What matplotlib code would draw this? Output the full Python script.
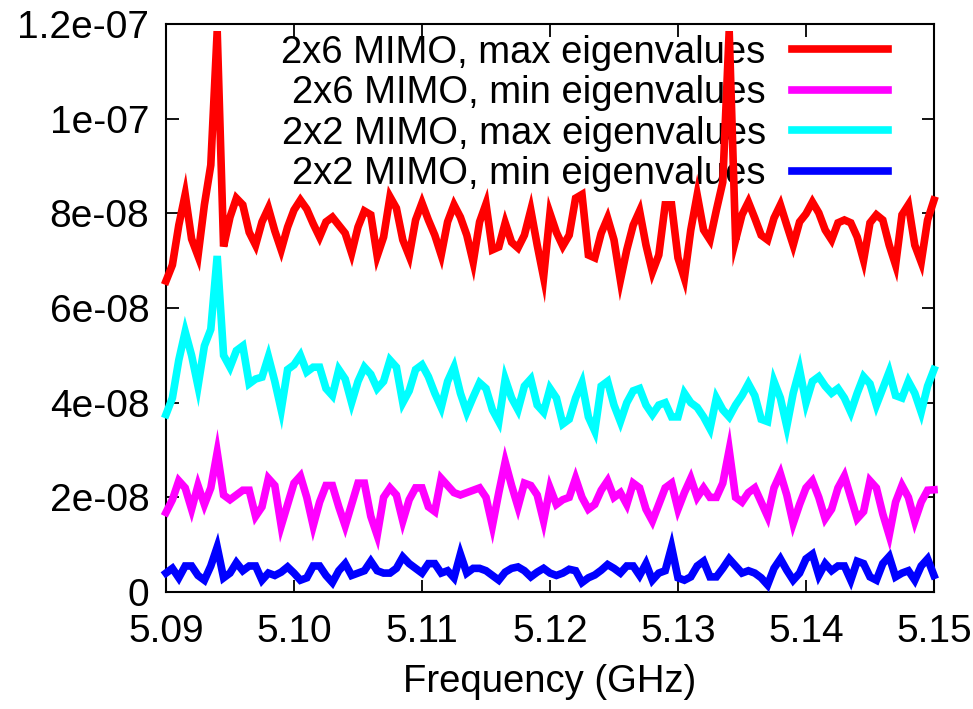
import numpy as np
import matplotlib
matplotlib.use('Agg')
import matplotlib.pyplot as plt

plt.rcParams['font.family'] = ['Liberation Sans', 'DejaVu Sans']

# eigenvalue traces, in units of 1e-8, one sample every 0.5 MHz from 5.09 to 5.15 GHz
max_2x6 = [6.57, 6.91, 7.75, 8.4, 7.46, 7.1, 8.18, 9.02, 11.85, 7.3,
           7.92, 8.32, 8.18, 7.6, 7.33, 7.82, 8.11, 7.63, 7.23, 7.71,
           8.07, 8.28, 8.09, 7.78, 7.5, 7.82, 7.92, 7.75, 7.58, 7.16,
           7.71, 8.05, 7.97, 7.1, 7.5, 8.35, 8.11, 7.44, 7.1, 7.86,
           8.22, 7.86, 7.54, 7.12, 7.82, 8.18, 7.92, 7.54, 6.97, 7.82,
           8.2, 7.23, 7.29, 7.8, 7.39, 7.27, 7.54, 8.07, 7.33, 6.65,
           8.0, 7.6, 7.31, 7.54, 8.32, 8.4, 7.12, 7.06, 7.58, 7.9,
           7.44, 6.59, 7.23, 7.75, 8.05, 7.33, 6.76, 7.12, 8.18, 8.18,
           7.06, 6.63, 7.65, 8.39, 7.65, 7.44, 8.07, 8.66, 11.85, 7.44,
           7.97, 8.24, 7.9, 7.54, 7.44, 7.9, 8.18, 7.75, 7.33, 7.82,
           7.99, 8.24, 8.01, 7.65, 7.44, 7.8, 7.86, 7.8, 7.5, 7.01,
           7.8, 7.97, 7.86, 7.33, 6.91, 7.97, 8.18, 7.33, 6.97, 7.86,
           8.28]
min_2x6 = [1.68, 1.95, 2.35, 2.2, 1.75, 2.25, 1.85, 2.2, 2.95, 2.05,
           1.95, 2.05, 2.15, 2.15, 1.6, 1.8, 2.4, 2.25, 1.4, 1.85,
           2.3, 2.45, 2.0, 1.4, 1.9, 2.25, 2.25, 1.8, 1.4, 1.85,
           2.3, 2.3, 1.6, 1.2, 2.0, 2.2, 2.05, 1.5, 1.95, 2.2,
           2.2, 1.8, 1.7, 2.4, 2.25, 2.1, 2.05, 2.1, 2.15, 2.2,
           2.0, 1.4, 2.1, 2.75, 2.25, 1.8, 2.3, 2.25, 2.05, 1.5,
           2.2, 1.85, 1.95, 2.0, 2.4, 2.0, 1.75, 1.85, 2.15, 2.35,
           2.0, 2.1, 1.85, 2.3, 2.2, 1.75, 1.5, 1.85, 2.2, 2.3,
           1.75, 2.1, 2.4, 2.0, 2.2, 2.0, 2.0, 2.3, 3.0, 2.0,
           1.9, 2.1, 2.2, 1.9, 1.6, 2.2, 2.5, 2.05, 1.45, 1.85,
           2.2, 2.35, 2.0, 1.55, 1.75, 2.2, 2.45, 2.0, 1.55, 1.7,
           2.35, 2.2, 1.65, 1.2, 1.9, 2.25, 2.0, 1.5, 1.9, 2.15,
           2.16]
max_2x2 = [3.75, 4.1, 4.9, 5.5, 5.0, 4.35, 5.2, 5.55, 7.1, 5.0,
           4.75, 5.1, 5.2, 4.4, 4.5, 4.54, 4.97, 4.45, 3.85, 4.7,
           4.8, 5.0, 4.65, 4.75, 4.75, 4.3, 4.15, 4.7, 4.5, 4.0,
           4.45, 4.75, 4.6, 4.3, 4.45, 4.9, 4.75, 4.0, 4.25, 4.7,
           4.8, 4.55, 4.2, 3.9, 4.45, 4.75, 4.2, 3.8, 4.12, 4.42,
           4.3, 3.85, 3.6, 4.5, 4.1, 3.85, 4.35, 4.5, 3.95, 3.8,
           4.3, 4.1, 3.55, 3.65, 4.1, 4.42, 3.7, 3.4, 4.35, 4.45,
           3.95, 3.6, 4.0, 4.25, 4.3, 3.95, 3.75, 3.95, 4.0, 3.7,
           3.7, 4.2, 4.0, 3.9, 3.7, 3.45, 4.1, 3.85, 3.7, 3.95,
           4.15, 4.4, 4.15, 3.65, 3.6, 4.45, 4.1, 3.5, 4.2, 4.7,
           4.0, 4.45, 4.55, 4.35, 4.2, 4.3, 4.1, 3.8, 4.2, 4.55,
           4.4, 3.95, 4.3, 4.65, 4.15, 4.1, 4.45, 4.2, 3.8, 4.35,
           4.7]
min_2x2 = [0.4, 0.5, 0.3, 0.55, 0.55, 0.35, 0.25, 0.55, 0.95, 0.3,
           0.4, 0.62, 0.45, 0.55, 0.55, 0.25, 0.4, 0.35, 0.42, 0.53,
           0.4, 0.25, 0.3, 0.55, 0.55, 0.35, 0.2, 0.45, 0.6, 0.35,
           0.4, 0.45, 0.65, 0.45, 0.4, 0.4, 0.5, 0.74, 0.6, 0.5,
           0.4, 0.6, 0.6, 0.4, 0.45, 0.3, 0.8, 0.4, 0.5, 0.5,
           0.45, 0.35, 0.25, 0.42, 0.5, 0.53, 0.45, 0.32, 0.42, 0.5,
           0.4, 0.35, 0.4, 0.48, 0.45, 0.2, 0.3, 0.36, 0.46, 0.58,
           0.5, 0.4, 0.55, 0.55, 0.35, 0.6, 0.25, 0.4, 0.45, 0.95,
           0.3, 0.25, 0.32, 0.55, 0.65, 0.32, 0.32, 0.5, 0.7, 0.55,
           0.4, 0.45, 0.4, 0.3, 0.15, 0.5, 0.7, 0.46, 0.25, 0.4,
           0.7, 0.8, 0.35, 0.6, 0.45, 0.55, 0.55, 0.25, 0.65, 0.6,
           0.32, 0.25, 0.6, 0.75, 0.32, 0.4, 0.45, 0.25, 0.55, 0.7,
           0.35]

freq = np.linspace(5.09, 5.15, len(max_2x6))

series = [
    ('2x6 MIMO, max eigenvalues', max_2x6, '#ff0000'),
    ('2x6 MIMO, min eigenvalues', min_2x6, '#ff00ff'),
    ('2x2 MIMO, max eigenvalues', max_2x2, '#00ffff'),
    ('2x2 MIMO, min eigenvalues', min_2x2, '#0000ff'),
]

x_ticks = [5.09, 5.10, 5.11, 5.12, 5.13, 5.14, 5.15]
x_labels = ['5.09', '5.10', '5.11', '5.12', '5.13', '5.14', '5.15']
y_ticks = [0, 2e-8, 4e-8, 6e-8, 8e-8, 1e-7, 1.2e-7]
y_labels = ['0', '2e-08', '4e-08', '6e-08', '8e-08', '1e-07', '1.2e-07']

fig = plt.figure(figsize=(9.73, 7.09), dpi=100)
ax = fig.add_axes([0.1706, 0.165, 0.7893, 0.8011])

for name, vals, col in series:
    ax.plot(freq, np.array(vals) * 1e-8, color=col, lw=5.5, label=name,
            zorder=3, clip_on=False, solid_joinstyle='miter')

ax.set_xlim(5.09, 5.15)
ax.set_ylim(0, 1.2e-7)
ax.set_xticks(x_ticks)
ax.set_xticklabels(x_labels)
ax.set_yticks(y_ticks)
ax.set_yticklabels(y_labels)
ax.tick_params(direction='in', length=9, width=1.3, labelsize=28,
               top=True, right=True)
ax.tick_params(axis='x', pad=16)
ax.tick_params(axis='y', pad=12)
for sp in ax.spines.values():
    sp.set_linewidth(1.5)
ax.set_xlabel('Frequency (GHz)', fontsize=27.5, labelpad=10)

# key sits in the upper right corner, text to the left of each sample line
leg = ax.legend(loc='upper right', bbox_to_anchor=(0.945, 0.988),
                frameon=False, markerfirst=False,
                fontsize=27.5, handlelength=2.5, handletextpad=0.7,
                labelspacing=0.12, borderaxespad=0.0, borderpad=0.1)
for t in leg.get_texts():
    t.set_ha('right')
leg.set_zorder(1)

fig.savefig('out.png', dpi=100)
